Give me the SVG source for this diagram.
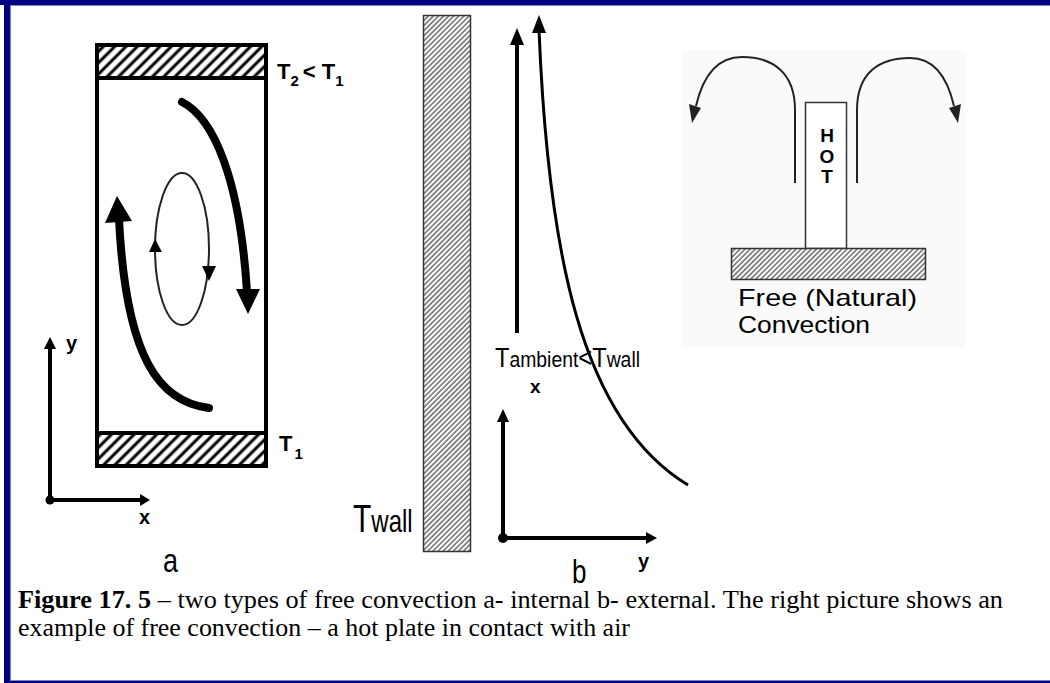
<svg xmlns="http://www.w3.org/2000/svg" width="1050" height="683" viewBox="0 0 1050 683">
  <style>
    .sans { font-family: "Liberation Sans", Arial, sans-serif; fill: #000; }
    .bold { font-weight: bold; }
    .serif { font-family: "Liberation Serif", "Times New Roman", serif; fill: #000; }
    .thick { fill: none; stroke: #000; stroke-width: 8; stroke-linecap: round; }
    .axis { fill: none; stroke: #000; stroke-width: 4; }
    .thin { fill: none; stroke: #222; stroke-width: 2; }
  </style>
  <defs>
    <!-- coarse hatching for the cavity walls -->
    <pattern id="hatchCoarse" width="8" height="8" patternUnits="userSpaceOnUse" patternTransform="rotate(45)">
      <rect width="8" height="8" fill="#fff"/>
      <line x1="2" y1="0" x2="2" y2="8" stroke="#000" stroke-width="3"/>
    </pattern>
    <!-- fine hatching for the wall and the base plate -->
    <pattern id="hatchFine" width="3.6" height="3.6" patternUnits="userSpaceOnUse" patternTransform="rotate(45)">
      <rect width="3.6" height="3.6" fill="#fff"/>
      <line x1="1" y1="0" x2="1" y2="3.6" stroke="#333" stroke-width="1.1"/>
    </pattern>
  </defs>

  <rect width="1050" height="683" fill="#fff"/>

  <!-- frame -->
  <g id="frame">
    <rect x="0" y="0" width="1050" height="5" fill="#000080"/>
    <rect x="10" y="5" width="1040" height="1" fill="#8080c8"/>
    <rect x="4" y="0" width="6" height="683" fill="#000080"/>
    <rect x="10" y="6" width="1" height="674" fill="#8080c8"/>
    <rect x="10" y="680" width="1040" height="1" fill="#8080c8"/>
    <rect x="4" y="681" width="1046" height="2" fill="#000080"/>
  </g>

  <!-- a: internal convection in a cavity -->
  <g id="cavity">
    <rect x="96" y="44" width="171" height="34" fill="url(#hatchCoarse)"/>
    <rect x="96" y="432" width="171" height="35" fill="url(#hatchCoarse)"/>
    <rect x="97" y="45" width="169" height="421" fill="none" stroke="#000" stroke-width="4"/>
    <line x1="97" y1="78" x2="266" y2="78" stroke="#000" stroke-width="4"/>
    <line x1="97" y1="433" x2="266" y2="433" stroke="#000" stroke-width="4"/>
    <text class="sans bold" x="277" y="79" font-size="22">T<tspan font-size="15" dy="7">2</tspan><tspan dy="-7" dx="4">&lt; T</tspan><tspan font-size="15" dy="7">1</tspan></text>
    <text class="sans bold" x="279" y="451" font-size="22">T<tspan font-size="15" dy="8" dx="2">1</tspan></text>
  </g>

  <g id="cells">
    <path class="thick" d="M182,102 C214,118 240,180 247,292"/>
    <polygon points="236,289 260,289 248,314" fill="#000"/>
    <path class="thick" d="M209,408 C160,402 126,360 119,219"/>
    <polygon points="105,223 132,221 117,196" fill="#000"/>
    <ellipse cx="182" cy="249" rx="27" ry="76" class="thin" stroke="#000"/>
    <polygon points="149,252 162,252 155,239" fill="#000"/>
    <polygon points="202,266 216,266 209,281" fill="#000"/>
  </g>

  <g id="axes-a">
    <path class="axis" d="M50,500 L50,346 M50,500 L141,500"/>
    <polygon points="44,349 56,349 50,337" fill="#000"/>
    <polygon points="140,494 140,506 150,500" fill="#000"/>
    <circle cx="50" cy="500" r="4.5" fill="#000"/>
    <text class="sans bold" x="66" y="350" font-size="20">y</text>
    <text class="sans bold" x="139" y="524" font-size="20">x</text>
    <text class="sans" x="163" y="572" font-size="27" transform="translate(0,-143) scale(1,1.25)">a</text>
  </g>

  <!-- b: external convection along a heated wall -->
  <g id="wall">
    <rect x="423.5" y="15.5" width="47" height="536" fill="url(#hatchFine)" stroke="#333" stroke-width="1.5"/>
    <text class="sans" x="353" y="532" font-size="30" transform="translate(0,-160) scale(1,1.3)">T<tspan font-size="24">wall</tspan></text>
  </g>

  <g id="boundary-layer">
    <line x1="517" y1="333" x2="517" y2="42" stroke="#000" stroke-width="4"/>
    <polygon points="510,45 524,45 517,28" fill="#000"/>
    <path d="M539,30 C548,250 580,420 688,485" fill="none" stroke="#000" stroke-width="3"/>
    <polygon points="532,33 546,33 539,15" fill="#000"/>
    <text class="sans" x="495" y="367" font-size="22" textLength="145" lengthAdjust="spacingAndGlyphs" transform="translate(0,-92) scale(1,1.25)">T<tspan font-size="18">ambient</tspan>&lt;T<tspan font-size="18">wall</tspan></text>
    <text class="sans bold" x="530" y="393" font-size="19">x</text>
  </g>

  <g id="axes-b">
    <path class="axis" d="M503,538 L503,420 M503,538 L647,538"/>
    <polygon points="497,422 509,422 503,409" fill="#000"/>
    <polygon points="646,532 646,544 657,538" fill="#000"/>
    <circle cx="503" cy="538" r="5" fill="#000"/>
    <text class="sans bold" x="638" y="568" font-size="20">y</text>
    <text class="sans" x="572" y="583" font-size="26" transform="translate(0,-146) scale(1,1.25)">b</text>
  </g>

  <!-- hot plate example -->
  <g id="hot-plate">
    <rect x="682" y="50" width="283" height="298" fill="#fafafa"/>
    <rect x="805.5" y="102.5" width="41" height="146" fill="#fff" stroke="#333" stroke-width="1.5"/>
    <text class="sans bold" x="827" y="142" font-size="19" text-anchor="middle">H</text>
    <text class="sans bold" x="827" y="163" font-size="19" text-anchor="middle">O</text>
    <text class="sans bold" x="827" y="183" font-size="19" text-anchor="middle">T</text>
    <rect x="731.5" y="248.5" width="194" height="31" fill="url(#hatchFine)" stroke="#333" stroke-width="1.5"/>
    <text class="sans" x="738" y="306" font-size="24" textLength="179" lengthAdjust="spacingAndGlyphs">Free (Natural)</text>
    <text class="sans" x="738" y="333" font-size="24" textLength="132" lengthAdjust="spacingAndGlyphs">Convection</text>
  </g>

  <g id="plume">
    <path class="thin" d="M795,183 L795,110 C795,72 772,57 742,57 C715,57 702,80 696,106"/>
    <polygon points="689,104 701,108 692,123" fill="#222"/>
    <path class="thin" d="M857,183 L857,110 C857,72 880,58 910,58 C935,58 948,80 954,106"/>
    <polygon points="949,108 961,104 958,123" fill="#222"/>
  </g>

  <!-- caption -->
  <g id="caption">
    <text class="serif" x="18" y="608" font-size="25" textLength="985" lengthAdjust="spacingAndGlyphs"><tspan font-weight="bold">Figure 17. 5</tspan> – two types of free convection a- internal b- external. The right picture shows an</text>
    <text class="serif" x="18" y="636" font-size="25" textLength="612" lengthAdjust="spacingAndGlyphs">example of free convection – a hot plate in contact with air</text>
  </g>
</svg>
